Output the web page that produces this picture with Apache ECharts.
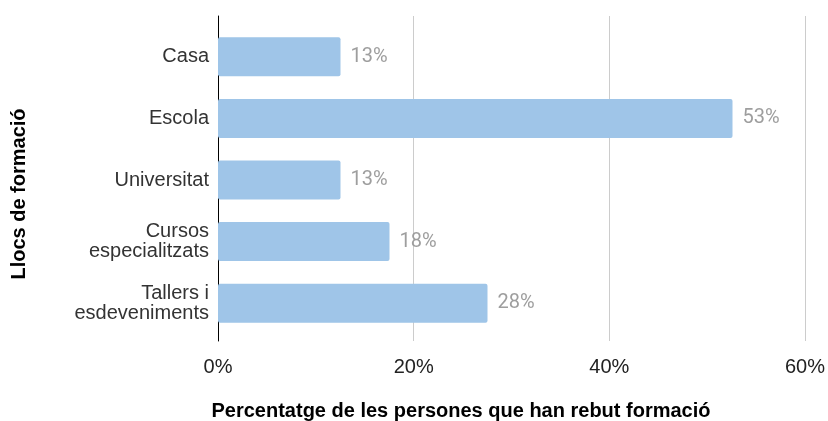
<!DOCTYPE html>
<html><head><meta charset="utf-8">
<script src="https://cdn.jsdelivr.net/npm/echarts@6/dist/echarts.min.js"></script>
<style>html,body{margin:0;padding:0;background:#fff}#c{width:828px;height:421px}</style>
</head><body><div id="c"></div>
<script>
const categories = ["Casa", "Escola", "Universitat", "Cursos\nespecialitzats", "Tallers i\nesdeveniments"];
const values = [12.5, 52.5, 12.5, 17.5, 27.5];
const valueLabels = ["13%", "53%", "13%", "18%", "28%"];
const xTicks = [0, 20, 40, 60];
const xTitle = "Percentatge de les persones que han rebut formació";
const yTitle = "Llocs de formació";

const FONT = "'Liberation Sans', Arial, Helvetica, sans-serif";
const VFONT = "Roboto, 'Liberation Sans', sans-serif";
const chart = echarts.init(document.getElementById('c'), null, {renderer: 'canvas'});
chart.setOption({
  animation: false,
  textStyle: {fontFamily: FONT},
  grid: [
    {left: 218, right: 22, top: 16, bottom: 80},
    {left: 218, right: 22, top: 26, bottom: 87}
  ],
  xAxis: [
    {gridIndex: 0, type: 'value', min: xTicks[0], max: xTicks[xTicks.length-1], interval: 20,
     axisLine: {show: false}, axisTick: {show: false},
     splitLine: {show: true, lineStyle: {color: '#cccccc', width: 1}},
     axisLabel: {formatter: v => v + '%', color: '#222', fontSize: 20, margin: 16, fontFamily: FONT}},
    {gridIndex: 1, type: 'value', min: xTicks[0], max: xTicks[xTicks.length-1], show: false}
  ],
  yAxis: [
    {gridIndex: 0, type: 'value', min: 0, max: 1,
     axisLine: {show: true, lineStyle: {color: '#000', width: 1}},
     axisTick: {show: false}, axisLabel: {show: false}, splitLine: {show: false}},
    {gridIndex: 1, type: 'category', data: categories, inverse: true,
     axisLine: {show: false}, axisTick: {show: false}, splitLine: {show: false},
     axisLabel: {color: '#333', fontSize: 20, margin: 9, lineHeight: 20, align: 'right', fontFamily: FONT}}
  ],
  graphic: [{
    type: 'text', x: 19, y: 194, rotation: Math.PI / 2,
    style: {text: yTitle, font: 'bold 20px ' + FONT, fill: '#000',
            align: 'center', verticalAlign: 'middle'}
  }, {
    type: 'text', x: 461, y: 411,
    style: {text: xTitle, font: 'bold 20px ' + FONT, fill: '#000',
            align: 'center', verticalAlign: 'middle'}
  }],
  series: [{
    type: 'bar', xAxisIndex: 1, yAxisIndex: 1, data: values, barWidth: 39,
    itemStyle: {color: '#9fc5e8', borderRadius: 2},
    label: {show: true, position: 'right', distance: 10, color: '#9e9e9e', fontSize: 20, fontFamily: VFONT,
            formatter: p => valueLabels[p.dataIndex]}
  }]
});
</script></body></html>
